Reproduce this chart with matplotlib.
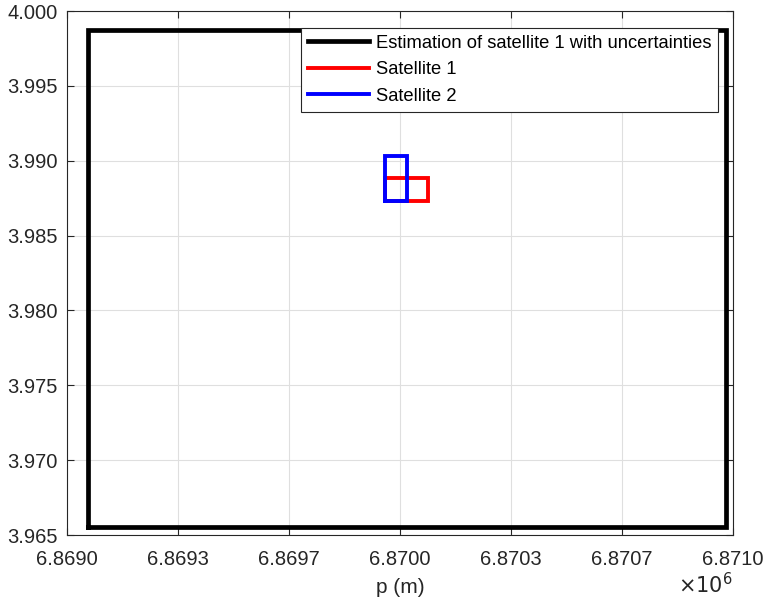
import matplotlib

matplotlib.use("Agg")

import matplotlib.pyplot as plt
from matplotlib.ticker import FuncFormatter

plt.rcParams["font.family"] = ["Liberation Sans", "DejaVu Sans"]

# box bounds (x in metres, y in same units as the axis)
est_x = [6869063, 6870979]
est_y = [3.96553, 3.99873]
sat1_x = [6869955, 6870083]
sat1_y = [3.98731, 3.98883]
sat2_x = [6869955, 6870020]
sat2_y = [3.98728, 3.99034]

x_ticks = [6869000, 6869333.33, 6869666.67, 6870000, 6870333.33, 6870666.67, 6871000]
y_ticks = [3.965, 3.970, 3.975, 3.980, 3.985, 3.990, 3.995, 4.000]

labels = [
    "Estimation of satellite 1 with uncertainties",
    "Satellite 1",
    "Satellite 2",
]


def box_outline(xb, yb):
    x0, x1 = xb
    y0, y1 = yb
    return [x0, x1, x1, x0, x0], [y0, y0, y1, y1, y0]


fig = plt.figure(figsize=(7.66, 5.99), dpi=100)
ax = fig.add_axes([0.0875, 0.1068, 0.8695, 0.8748])

axis_grey = "#262626"

for xb, yb, colour, lw, label in [
    (est_x, est_y, "black", 3.4, labels[0]),
    (sat1_x, sat1_y, "#ff0000", 2.8, labels[1]),
    (sat2_x, sat2_y, "#0000ff", 2.8, labels[2]),
]:
    xs, ys = box_outline(xb, yb)
    ax.plot(xs, ys, color=colour, linewidth=lw, label=label, solid_joinstyle="miter")

ax.set_xlim(x_ticks[0], x_ticks[-1])
ax.set_ylim(y_ticks[0], y_ticks[-1])
ax.set_xticks(x_ticks)
ax.set_yticks(y_ticks)
ax.xaxis.set_major_formatter(FuncFormatter(lambda v, _: f"{v / 1e6:.4f}"))
ax.yaxis.set_major_formatter(FuncFormatter(lambda v, _: f"{v:.3f}"))

ax.tick_params(
    direction="in", length=5, width=0.8, colors=axis_grey,
    labelsize=14.5, top=True, right=True,
)
ax.tick_params(axis="x", pad=11)
ax.tick_params(axis="y", pad=7)
for spine in ax.spines.values():
    spine.set_color(axis_grey)
    spine.set_linewidth(0.8)

ax.grid(True, color="#dfdfdf", linewidth=0.8)
ax.set_axisbelow(True)

ax.set_xlabel("p (m)", fontsize=15, color=axis_grey, labelpad=6.5)
fig.text(0.957, 0.009, r"$\times10^{6}$", ha="right", va="baseline",
         fontsize=15, color=axis_grey)

leg = ax.legend(
    loc="upper right", bbox_to_anchor=(0.978, 0.968), fontsize=13.2,
    frameon=True, fancybox=False, framealpha=1.0, edgecolor=axis_grey,
    handlelength=3.3, handletextpad=0.4, borderpad=0.38, labelspacing=0.52,
    borderaxespad=0.0,
)
leg.get_frame().set_linewidth(0.8)

fig.savefig("out.png", dpi=100)
